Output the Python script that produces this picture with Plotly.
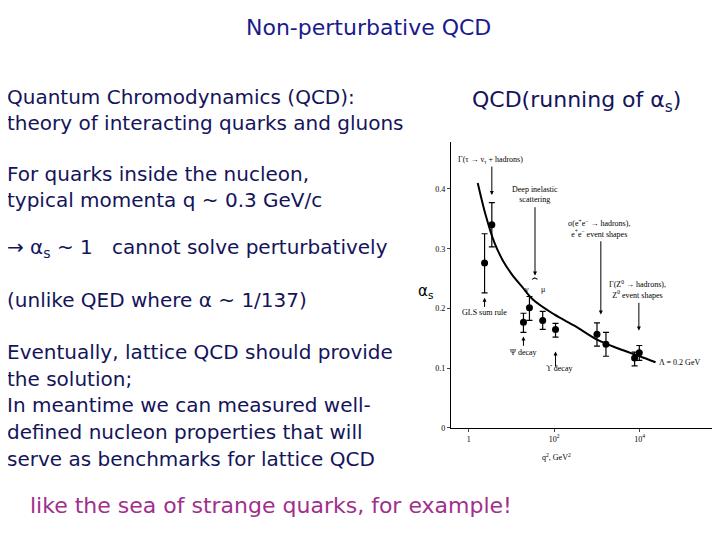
import plotly.graph_objects as go

# data (x as q^2 in GeV^2)
pt_logq2 = [0.37, 0.54, 1.28, 1.42, 1.73, 2.03, 3.0, 3.21, 3.88, 3.99]
pt_alpha = [0.276, 0.34, 0.177, 0.201, 0.18, 0.165, 0.157, 0.14, 0.117, 0.126]
pt_lo = [0.226, 0.303, 0.16, 0.18, 0.165, 0.152, 0.137, 0.12, 0.104, 0.113]
pt_hi = [0.325, 0.377, 0.192, 0.22, 0.195, 0.175, 0.176, 0.16, 0.127, 0.138]
curve_logq2 = [0.21, 0.4, 0.6, 0.8, 1.0, 1.25, 1.5, 2.0, 2.5, 3.0, 3.5, 4.0, 4.37]
curve_alpha = [0.41, 0.355, 0.31, 0.28, 0.258, 0.236, 0.215, 0.19, 0.17, 0.148, 0.133, 0.12, 0.11]
y_ticks = [0, 0.1, 0.2, 0.3, 0.4]
y_tick_text = ["0", "0.1", "0.2", "0.3", "0.4"]
x_ticks = [1, 100, 10000]
x_tick_text = ["1", "10<sup>2</sup>", "10<sup>4</sup>"]

px = [10 ** v for v in pt_logq2]
cx = [10 ** v for v in curve_logq2]

fig = go.Figure()
fig.add_trace(go.Scatter(x=cx, y=curve_alpha, mode="lines", line=dict(color="black", width=2, shape="spline"),
                         hoverinfo="skip"))
fig.add_trace(go.Scatter(x=px, y=pt_alpha, mode="markers",
                         marker=dict(color="black", size=7),
                         error_y=dict(type="data", symmetric=False,
                                      array=[h - a for h, a in zip(pt_hi, pt_alpha)],
                                      arrayminus=[a - l for a, l in zip(pt_alpha, pt_lo)],
                                      color="black", thickness=1.2, width=3)))

sf = dict(family="Liberation Serif", size=8, color="black")
ann = []
def arrow(x, y0, y1):
    ann.append(dict(x=x, y=y1, ax=x, ay=y0, xref="x", yref="y", axref="x", ayref="y",
                    showarrow=True, arrowhead=2, arrowsize=0.8, arrowwidth=1, arrowcolor="black", text=""))
arrow(0.54, 0.44, 0.39)
arrow(1.55, 0.372, 0.255)
arrow(3.09, 0.315, 0.19)
arrow(3.98, 0.212, 0.163)
arrow(0.37, 0.2, 0.218)
arrow(1.28, 0.135, 0.153)
arrow(2.03, 0.1, 0.128)
def lab(x, y, t, xa="center"):
    ann.append(dict(x=x, y=y, xref="x", yref="y", text=t, showarrow=False, font=dict(sf), xanchor=xa))
lab(0.5, 0.449, "Γ(τ → ν<sub>τ</sub> + hadrons)")
lab(1.55, 0.39, "Deep inelastic<br>scattering")
lab(3.05, 0.333, "σ(e<sup>+</sup>e<sup>−</sup> → hadrons),<br>e<sup>+</sup>e<sup>−</sup> event shapes")
lab(3.95, 0.231, "Γ(Z<sup>0</sup> → hadrons),<br>Z<sup>0</sup> event shapes")
lab(0.37, 0.194, "GLS sum rule")
lab(1.27, 0.127, "Ψ decay")
lab(2.1, 0.1, "ϒ decay")
lab(4.4, 0.11, "Λ = 0.2 GeV", "left")
ann.append(dict(x=1.55, y=0.244, xref="x", yref="y", text="⏞", showarrow=False,
                font=dict(family="DejaVu Sans", size=9, color="black")))
lab(1.36, 0.232, "ν")
lab(1.74, 0.232, "μ")

navy = "#14145a"
def pt(x, y, t, size=20, color=navy, xa="left"):
    ann.append(dict(x=x / 720, y=1 - y / 540, xref="paper", yref="paper", text=t, showarrow=False,
                    xanchor=xa, yanchor="middle", font=dict(family="DejaVu Sans", size=size, color=color)))
pt(360, 20, "Non-perturbative QCD", 22, "#1a1a8c", "center")
pt(-3, 90, "Quantum Chromodynamics (QCD):")
pt(-3, 116, "theory of interacting quarks and gluons")
pt(-3, 168, "For quarks inside the nucleon,")
pt(-3, 194, "typical momenta q ~ 0.3 GeV/c")
pt(-3, 242, "→ α<sub>s</sub> ~ 1   cannot solve perturbatively")
pt(-3, 295, "(unlike QED where α ~ 1/137)")
pt(-3, 347, "Eventually, lattice QCD should provide")
pt(-3, 374, "the solution;")
pt(-3, 401, "In meantime we can measured well-")
pt(-3, 428, "defined nucleon properties that will")
pt(-3, 455, "serve as benchmarks for lattice QCD")
pt(462, 94, "QCD(running of α<sub>s</sub>)", 22)
pt(20, 502, "like the sea of strange quarks, for example!", 22, "#a0308c")
pt(408, 286, "α<sub>s</sub>", 15, "black")
ann.append(dict(x=0.785, y=0.148, xref="paper", yref="paper", text="q<sup>2</sup>, GeV<sup>2</sup>",
                showarrow=False, font=dict(sf)))

fig.update_layout(width=720, height=540, margin=dict(l=0, r=0, t=0, b=0),
                  paper_bgcolor="white", plot_bgcolor="white", showlegend=False,
                  annotations=ann,
                  xaxis=dict(type="log", range=[-0.42, 5.88], domain=[0.615, 0.989],
                             tickvals=x_ticks, ticktext=x_tick_text, tickfont=dict(sf),
                             showgrid=False, zeroline=False, showline=True, linecolor="black",
                             ticks="outside", ticklen=3),
                  yaxis=dict(range=[0, 0.479], domain=[0.215, 0.75], tickvals=y_ticks,
                             ticktext=y_tick_text, tickfont=dict(sf), showgrid=False, zeroline=False,
                             showline=True, linecolor="black", ticks="outside", ticklen=3))
fig.write_html("out.html")
